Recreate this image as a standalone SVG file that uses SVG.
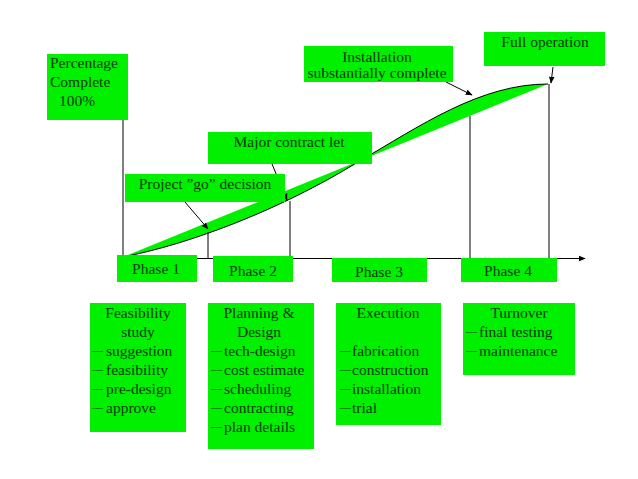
<svg xmlns="http://www.w3.org/2000/svg" width="638" height="479" viewBox="0 0 638 479">
<style>
.box{fill:#00f000;}
text{font-family:"Liberation Serif","Times New Roman",serif;font-size:15.5px;fill:#003800;}
.c{text-anchor:middle;}
.d{font-size:11px;}
.ln{stroke:#000;stroke-width:1;fill:none;}
.ar{stroke:#000;stroke-width:1;fill:none;marker-end:url(#ah);}
</style>
<defs>
<marker id="ah" viewBox="0 0 10 10" refX="9" refY="5" markerWidth="7" markerHeight="7" orient="auto" markerUnits="userSpaceOnUse">
<path d="M0,1 L10,5 L0,9 Z" fill="#000"/>
</marker>
</defs>
<rect width="638" height="479" fill="#fff"/>

<g id="curve">
<path d="M123,257 C190,244 280,210 358,162 C420,126 480,84 548,84 Z" fill="#00f000" stroke="none"/>
<path d="M123,257 C190,244 280,210 358,162 C420,126 480,84 548,84" class="ln"/>
</g>

<g id="connectors">
<line x1="123" y1="120" x2="123" y2="258" class="ln"/>
<line x1="123" y1="258.5" x2="585" y2="258.5" class="ar"/>
<line x1="208" y1="232" x2="208" y2="258" class="ln"/>
<line x1="290" y1="201" x2="290" y2="258" class="ln"/>
<line x1="470" y1="116" x2="470" y2="258" class="ln"/>
<line x1="549" y1="84" x2="549" y2="258" class="ln"/>
<line x1="185" y1="202" x2="208" y2="229" class="ar"/>
<line x1="272" y1="164" x2="287" y2="200" class="ar"/>
<line x1="446" y1="82" x2="472" y2="95" class="ar"/>
<line x1="553" y1="67" x2="551" y2="83" class="ar"/>
</g>

<g id="percentage">
<rect class="box" x="47" y="54" width="81" height="66"/>
<text x="50" y="68">Percentage</text>
<text x="50" y="87">Complete</text>
<text x="59" y="106">100%</text>
</g>

<g id="go">
<rect class="box" x="125" y="174" width="160" height="28"/>
<text class="c" x="205" y="189">Project ”go” decision</text>
</g>

<g id="major">
<rect class="box" x="208" y="132" width="164" height="32"/>
<text class="c" x="289" y="147">Major contract let</text>
</g>

<g id="install">
<rect class="box" x="304" y="46" width="149" height="36"/>
<text class="c" x="377" y="62">Installation</text>
<text class="c" x="377" y="78">substantially complete</text>
</g>

<g id="fullop">
<rect class="box" x="484" y="32" width="121" height="34"/>
<text class="c" x="545" y="47">Full operation</text>
</g>

<g id="phase1">
<rect class="box" x="117" y="255" width="80" height="27"/>
<text class="c" x="156" y="274">Phase 1</text>
</g>
<g id="phase2">
<rect class="box" x="213" y="256" width="80" height="26"/>
<text class="c" x="253" y="276">Phase 2</text>
</g>
<g id="phase3">
<rect class="box" x="332" y="258" width="95" height="24"/>
<text class="c" x="379" y="277">Phase 3</text>
</g>
<g id="phase4">
<rect class="box" x="461" y="258" width="96" height="24"/>
<text class="c" x="508" y="276">Phase 4</text>
</g>

<g id="feasibility">
<rect class="box" x="90" y="303" width="96" height="129"/>
<text class="c" x="138" y="318">Feasibility</text>
<text class="c" x="138" y="337">study</text>
<text y="356"><tspan class="d" x="92" dy="-2">—</tspan><tspan x="106" dy="2">suggestion</tspan></text>
<text y="375"><tspan class="d" x="92" dy="-2">—</tspan><tspan x="106" dy="2">feasibility</tspan></text>
<text y="394"><tspan class="d" x="92" dy="-2">—</tspan><tspan x="106" dy="2">pre-design</tspan></text>
<text y="413"><tspan class="d" x="92" dy="-2">—</tspan><tspan x="106" dy="2">approve</tspan></text>
</g>

<g id="planning">
<rect class="box" x="208" y="303" width="106" height="146"/>
<text class="c" x="259" y="318">Planning &amp;</text>
<text class="c" x="259" y="337">Design</text>
<text y="356"><tspan class="d" x="211" dy="-2">—</tspan><tspan x="224" dy="2">tech-design</tspan></text>
<text y="375"><tspan class="d" x="211" dy="-2">—</tspan><tspan x="224" dy="2">cost estimate</tspan></text>
<text y="394"><tspan class="d" x="211" dy="-2">—</tspan><tspan x="224" dy="2">scheduling</tspan></text>
<text y="413"><tspan class="d" x="211" dy="-2">—</tspan><tspan x="224" dy="2">contracting</tspan></text>
<text y="432"><tspan class="d" x="211" dy="-2">—</tspan><tspan x="224" dy="2">plan details</tspan></text>
</g>

<g id="execution">
<rect class="box" x="336" y="303" width="105" height="122"/>
<text class="c" x="388" y="318">Execution</text>
<text y="356"><tspan class="d" x="340" dy="-2">—</tspan><tspan x="352" dy="2">fabrication</tspan></text>
<text y="375"><tspan class="d" x="340" dy="-2">—</tspan><tspan x="352" dy="2">construction</tspan></text>
<text y="394"><tspan class="d" x="340" dy="-2">—</tspan><tspan x="352" dy="2">installation</tspan></text>
<text y="413"><tspan class="d" x="340" dy="-2">—</tspan><tspan x="352" dy="2">trial</tspan></text>
</g>

<g id="turnover">
<rect class="box" x="463" y="303" width="112" height="72"/>
<text class="c" x="519" y="318">Turnover</text>
<text y="337"><tspan class="d" x="466" dy="-2">—</tspan><tspan x="479" dy="2">final testing</tspan></text>
<text y="356"><tspan class="d" x="466" dy="-2">—</tspan><tspan x="479" dy="2">maintenance</tspan></text>
</g>
</svg>
